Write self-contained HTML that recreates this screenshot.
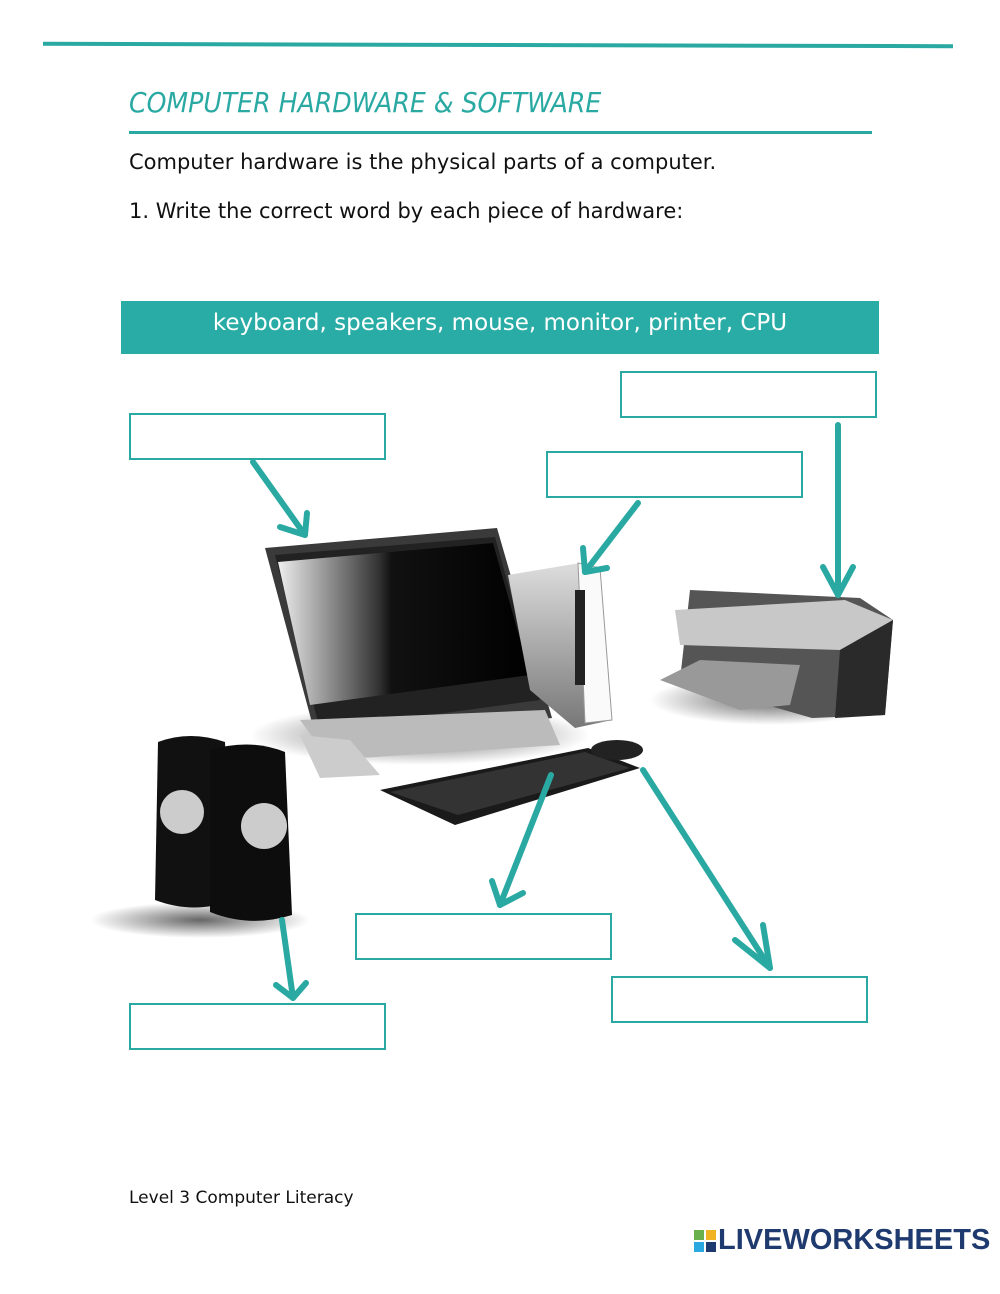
<!DOCTYPE html>
<html><head><meta charset="utf-8"><style>
html,body{margin:0;padding:0;background:#fff;}
body{width:1000px;height:1294px;position:relative;overflow:hidden;font-family:"DejaVu Sans","Liberation Sans",sans-serif;}
.t{position:absolute;white-space:nowrap;}
.box{position:absolute;border:2px solid #2aa9a3;box-sizing:border-box;width:257px;height:47px;}
</style></head><body>
<div style="position:absolute;left:43px;top:43px;width:910px;height:4px;background:#2aa9a3;transform:rotate(0.15deg)"></div>
<div class="t" style="left:129px;top:86px;font-size:28px;font-style:italic;color:#2aa9a3;font-family:'DejaVu Sans Condensed','Liberation Sans Narrow',sans-serif;">COMPUTER HARDWARE &amp; SOFTWARE</div>
<div style="position:absolute;left:129px;top:131px;width:743px;height:3px;background:#2aa9a3"></div>
<div class="t" style="left:129px;top:150px;font-size:21px;color:#111">Computer hardware is the physical parts of a computer.</div>
<div class="t" style="left:129px;top:199px;font-size:21px;color:#111">1. Write the correct word by each piece of hardware:</div>
<div style="position:absolute;left:121px;top:301px;width:758px;height:53px;background:#2aaca6;color:#fff;font-size:23px;text-align:center;line-height:44px">keyboard, speakers, mouse, monitor, printer, CPU</div>
<div class="box" style="left:129px;top:413px"></div>
<div class="box" style="left:620px;top:371px"></div>
<div class="box" style="left:546px;top:451px"></div>
<div class="box" style="left:355px;top:913px"></div>
<div class="box" style="left:611px;top:976px"></div>
<div class="box" style="left:129px;top:1003px"></div>
<svg width="1000" height="1294" style="position:absolute;left:0;top:0">
<defs>
<linearGradient id="scr" x1="0" x2="1"><stop offset="0" stop-color="#eee"/><stop offset="0.4" stop-color="#333"/><stop offset="0.45" stop-color="#111"/><stop offset="1" stop-color="#000"/></linearGradient>
<linearGradient id="gr" x1="0" x2="0" y1="0" y2="1"><stop offset="0" stop-color="#ddd"/><stop offset="1" stop-color="#777"/></linearGradient>
<radialGradient id="sh"><stop offset="0" stop-color="#000" stop-opacity="0.6"/><stop offset="1" stop-color="#000" stop-opacity="0"/></radialGradient>
</defs>
<ellipse cx="420" cy="735" rx="170" ry="30" fill="url(#sh)"/>
<polygon points="265,548 497,528 552,718 318,745" fill="#3a3a3a"/>
<polygon points="275,555 495,537 540,700 320,730" fill="#222"/>
<polygon points="278,562 493,543 530,675 310,705" fill="url(#scr)"/>
<polygon points="300,720 330,760 560,745 545,710" fill="#bbb"/>
<polygon points="300,735 320,778 380,775 350,740" fill="#ccc"/>
<polygon points="508,575 580,563 600,568 612,720 575,728 530,690" fill="url(#gr)"/>
<polygon points="578,563 600,568 612,720 585,723" fill="#fafafa" stroke="#999"/>
<rect x="575" y="590" width="10" height="95" fill="#222"/>
<ellipse cx="770" cy="700" rx="120" ry="25" fill="url(#sh)"/>
<polygon points="690,590 860,598 893,620 885,715 812,718 680,680" fill="#555"/>
<polygon points="675,610 845,600 893,620 840,650 680,645" fill="#c8c8c8"/>
<polygon points="660,680 700,660 800,665 790,705 740,710" fill="#999"/>
<polygon points="840,650 893,620 885,715 835,718" fill="#2a2a2a"/>
<polygon points="380,790 588,748 640,768 455,825" fill="#1a1a1a"/>
<polygon points="390,792 585,752 630,768 458,815" fill="#333"/>
<ellipse cx="617" cy="750" rx="26" ry="10" fill="#222"/>
<ellipse cx="200" cy="920" rx="110" ry="18" fill="url(#sh)"/>
<path d="M158,742 Q190,730 225,742 L232,900 Q195,915 155,900 Z" fill="#111"/>
<path d="M210,750 Q250,738 285,752 L292,915 Q250,928 210,912 Z" fill="#0d0d0d"/>
<circle cx="182" cy="812" r="22" fill="#ccc"/>
<circle cx="264" cy="826" r="23" fill="#ccc"/>
<g stroke="#2aa9a3" stroke-width="6" fill="none" stroke-linecap="round" stroke-linejoin="round">
<line x1="253" y1="462" x2="305" y2="535"/><polyline points="280,527 305,535 307,513"/>
<line x1="638" y1="503" x2="585" y2="572"/><polyline points="583,548 585,572 607,568"/>
<line x1="838" y1="425" x2="838" y2="595"/><polyline points="823,567 838,595 853,567"/>
<line x1="551" y1="775" x2="500" y2="905"/><polyline points="492,881 500,905 523,893"/>
<line x1="643" y1="770" x2="770" y2="968"/><polyline points="735,940 770,968 763,925"/>
<line x1="282" y1="920" x2="293" y2="998"/><polyline points="276,985 293,998 306,983"/>
</g>
</svg>
<div class="t" style="left:129px;top:1188px;font-size:17px;color:#111">Level 3 Computer Literacy</div>
<div style="position:absolute;left:694px;top:1230px;width:22px;height:22px;">
<div style="position:absolute;left:0;top:0;width:10px;height:10px;background:#6ab04c"></div>
<div style="position:absolute;left:12px;top:0;width:10px;height:10px;background:#f0b323"></div>
<div style="position:absolute;left:0;top:12px;width:10px;height:10px;background:#2aa9e0"></div>
<div style="position:absolute;left:12px;top:12px;width:10px;height:10px;background:#1e3a6e"></div>
</div>
<div class="t" style="left:718px;top:1224px;font-size:29px;font-weight:bold;color:#1e3a6e;font-family:'Liberation Sans',sans-serif;">LIVEWORKSHEETS</div>
</body></html>
